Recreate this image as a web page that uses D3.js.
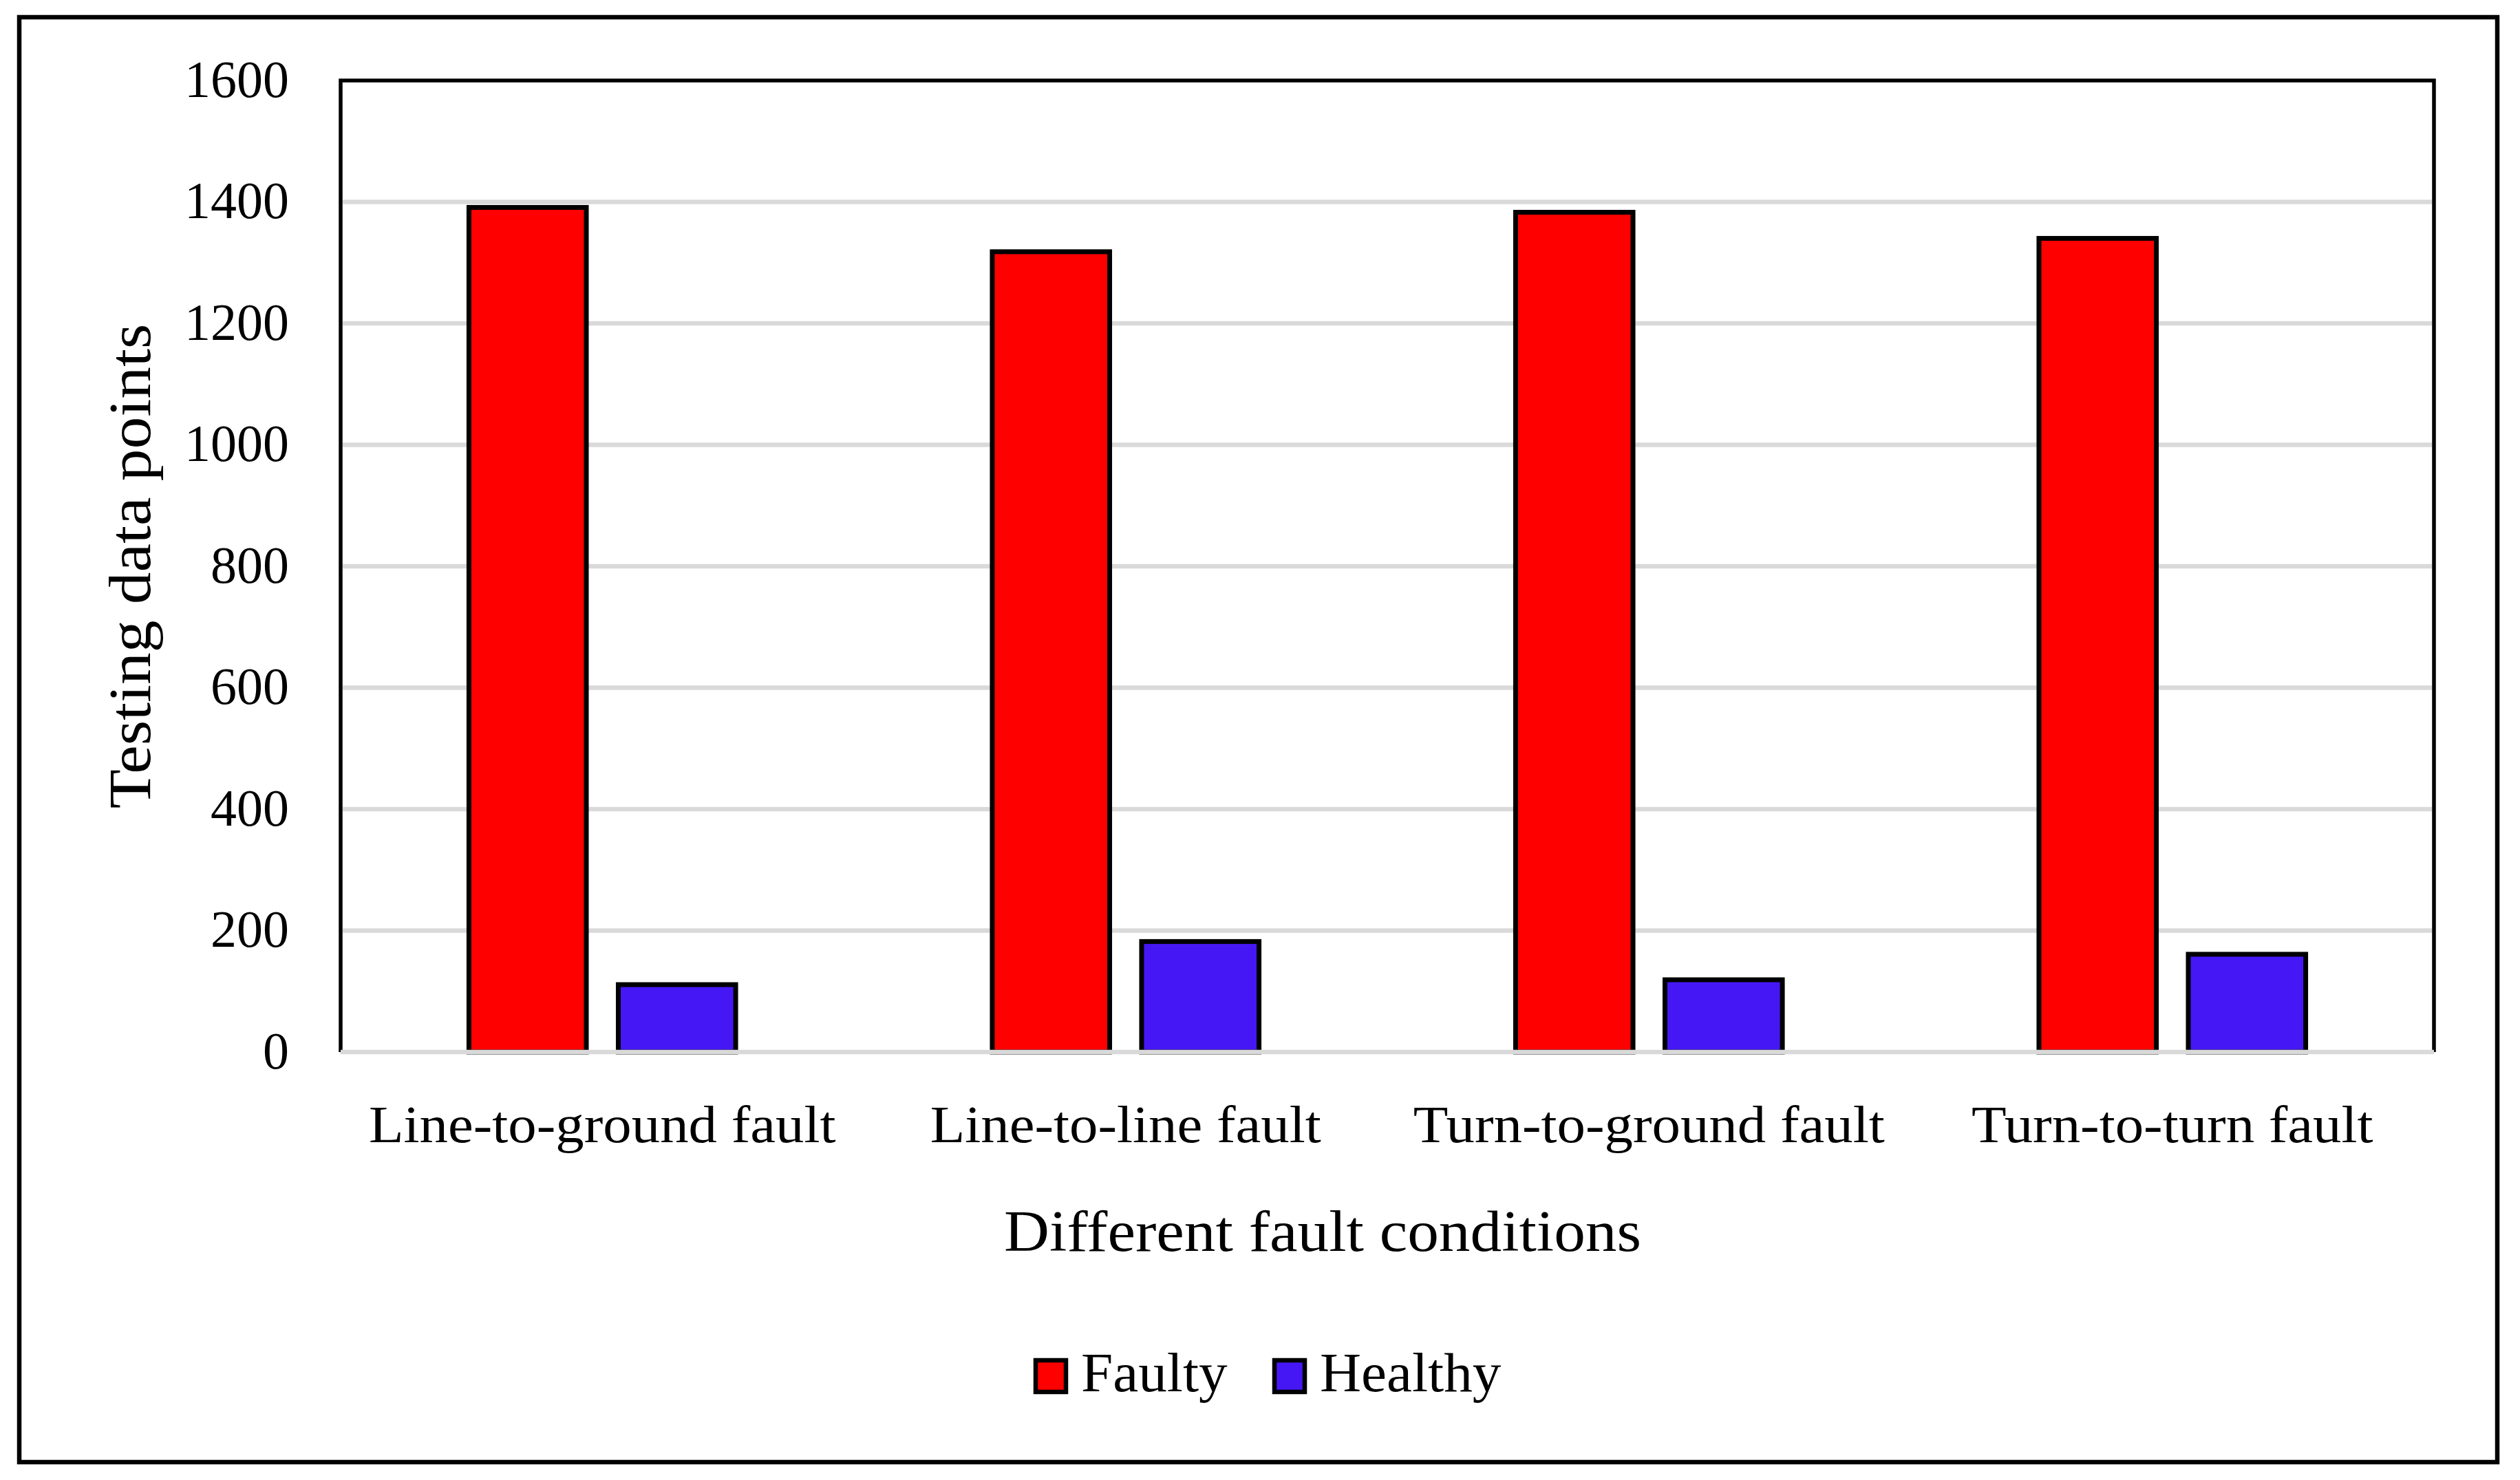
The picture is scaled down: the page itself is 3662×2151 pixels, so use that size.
<!DOCTYPE html>
<html>
<head>
<meta charset="utf-8">
<script src="https://cdn.jsdelivr.net/npm/d3@7"></script>
<style>
  html, body { margin: 0; padding: 0; background: #ffffff; }
  svg { display: block; }
  text { font-family: "Liberation Serif", "Times New Roman", serif; fill: #000; }
</style>
</head>
<body>
<script>
// ---- data ----
const categories = ["Line-to-ground fault", "Line-to-line fault", "Turn-to-ground fault", "Turn-to-turn fault"];
const seriesNames = ["Faulty", "Healthy"];
const faulty = [1391, 1318, 1383, 1340];
const healthy = [111, 182, 119, 161];
const yTicks = [0, 200, 400, 600, 800, 1000, 1200, 1400, 1600];
const xTitle = "Different fault conditions";
const yTitle = "Testing data points";
const colors = ["#ff0000", "#4617f5"];

// ---- layout ----
const W = 3662, H = 2151;
const plot = { left: 495, right: 3537, top: 117, bottom: 1529 };

const svg = d3.select("body").append("svg").attr("width", W).attr("height", H);

// outer frame
svg.append("rect")
  .attr("x", 28).attr("y", 25).attr("width", 3629 - 28).attr("height", 2125 - 25)
  .attr("fill", "#fff").attr("stroke", "#000").attr("stroke-width", 6.5);

const y = d3.scaleLinear().domain([0, 1600]).range([plot.bottom, plot.top]);
const x0 = d3.scaleBand().domain(categories).range([plot.left, plot.right]).padding(0);
const x1 = d3.scaleBand().domain(seriesNames).range([0, x0.bandwidth()])
  .paddingInner(0.214).paddingOuter(0.859);

const table = categories.map((c, i) => ({ cat: c, values: [
  { key: seriesNames[0], v: faulty[i] },
  { key: seriesNames[1], v: healthy[i] }
]}));

// plot border (left, top, right)
svg.append("path")
  .attr("d", `M${plot.left},${plot.bottom} V${plot.top} H${plot.right} V${plot.bottom}`)
  .attr("fill", "none").attr("stroke", "#000").attr("stroke-width", 5.5);

// gridlines (except top)
svg.append("g").selectAll("line")
  .data(yTicks.filter(t => t > 0 && t < 1600))
  .join("line")
  .attr("x1", plot.left + 3).attr("x2", plot.right - 3)
  .attr("y1", d => y(d)).attr("y2", d => y(d))
  .attr("stroke", "#d9d9d9").attr("stroke-width", 6.5);

// bars
const groups = svg.append("g").selectAll("g")
  .data(table).join("g")
  .attr("transform", d => `translate(${x0(d.cat)},0)`);
groups.selectAll("rect")
  .data(d => d.values).join("rect")
  .attr("x", d => x1(d.key))
  .attr("width", x1.bandwidth())
  .attr("y", d => y(d.v))
  .attr("height", d => y(0) - y(d.v))
  .attr("fill", (d, i) => colors[i])
  .attr("stroke", "#000").attr("stroke-width", 7);

// zero line on top
svg.append("line")
  .attr("x1", plot.left).attr("x2", plot.right)
  .attr("y1", y(0)).attr("y2", y(0))
  .attr("stroke", "#d9d9d9").attr("stroke-width", 6.5);

// y axis
const yAxis = svg.append("g")
  .attr("transform", `translate(${plot.left},0)`)
  .call(d3.axisLeft(y).tickValues(yTicks).tickSize(0).tickPadding(75).tickFormat(d3.format("d")));
yAxis.select(".domain").remove();
yAxis.selectAll("text")
  .attr("font-family", "Liberation Serif, serif")
  .attr("font-size", 76)
  .attr("dy", null)
  .attr("y", 23);

// x axis
const xAxis = svg.append("g")
  .attr("transform", `translate(0,${plot.bottom})`)
  .call(d3.axisBottom(x0).tickSize(0));
xAxis.select(".domain").remove();
xAxis.selectAll("text")
  .attr("font-family", "Liberation Serif, serif")
  .attr("font-size", 76)
  .attr("dy", null)
  .attr("y", 0)
  .attr("transform", "translate(0,131) scale(1.09,1)");

// axis titles
svg.append("text")
  .attr("text-anchor", "middle")
  .attr("font-size", 85)
  .attr("transform", "translate(1922,1818) scale(1.074,1)")
  .text(xTitle);

svg.append("text")
  .attr("text-anchor", "middle")
  .attr("font-size", 86)
  .attr("transform", "translate(218,823) rotate(-90) scale(1.087,1)")
  .text(yTitle);

// legend
const legendItems = [
  { name: seriesNames[0], color: colors[0], mx: 1505, tx: 1571 },
  { name: seriesNames[1], color: colors[1], mx: 1852, tx: 1918 }
];
const lg = svg.append("g").selectAll("g").data(legendItems).join("g");
lg.append("rect")
  .attr("x", d => d.mx).attr("y", 1977)
  .attr("width", 44).attr("height", 46)
  .attr("fill", d => d.color).attr("stroke", "#000").attr("stroke-width", 6.5);
lg.append("text")
  .attr("font-size", 80)
  .attr("transform", d => `translate(${d.tx},2022) scale(1.04,1)`)
  .text(d => d.name);
</script>
</body>
</html>
